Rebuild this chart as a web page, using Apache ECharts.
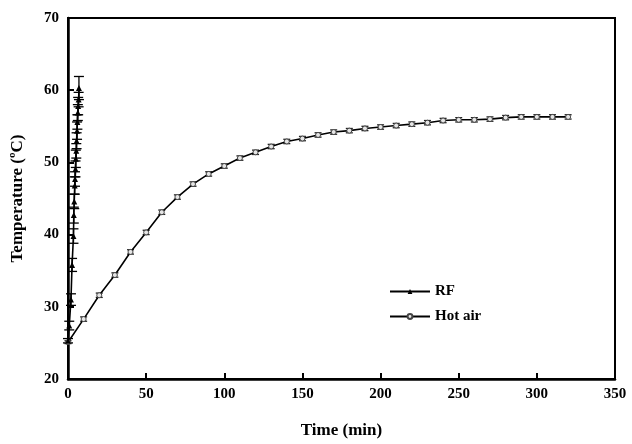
<!DOCTYPE html>
<html>
<head>
<meta charset="utf-8">
<script src="https://cdn.jsdelivr.net/npm/echarts@6/dist/echarts.min.js"></script>
<style>html,body{margin:0;padding:0;background:#fff}#c{width:632px;height:444px}</style>
</head>
<body>
<div id="c"></div>
<script>
var rfTime = [0, 0.8, 1.9, 2.6, 3.5, 3.7, 4.0, 4.3, 4.5, 4.8, 5.0, 5.3, 5.5, 5.8, 6.0, 6.3, 6.5, 6.8, 7.0];
var rfTemp = [25.3, 27.4, 31.0, 35.8, 39.8, 42.7, 44.6, 46.8, 47.7, 49.1, 50.5, 51.6, 53.0, 54.4, 55.6, 56.9, 57.8, 58.7, 60.3];
var rfErr  = [0.3, 0.6, 0.8, 0.9, 1.0, 1.1, 1.0, 1.2, 1.0, 1.1, 1.2, 1.0, 1.1, 1.2, 1.0, 1.1, 1.2, 1.0, 1.6];

var airTime = [0,10,20,30,40,50,60,70,80,90,100,110,120,130,140,150,160,170,180,190,200,210,220,230,240,250,260,270,280,290,300,310,320];
var airTemp = [25.1,28.3,31.6,34.4,37.6,40.3,43.1,45.2,47.0,48.4,49.5,50.6,51.4,52.2,52.9,53.3,53.8,54.2,54.4,54.7,54.9,55.1,55.3,55.5,55.8,55.9,55.9,56.0,56.2,56.3,56.3,56.3,56.3];
var airErr  = [0.2,0.3,0.3,0.3,0.3,0.3,0.3,0.3,0.3,0.3,0.3,0.3,0.3,0.3,0.3,0.3,0.3,0.3,0.3,0.3,0.3,0.3,0.3,0.3,0.3,0.3,0.3,0.3,0.3,0.3,0.3,0.3,0.3];

var xTicks = [0, 50, 100, 150, 200, 250, 300, 350];
var yTicks = [20, 30, 40, 50, 60, 70];

function pairs(xs, ys) { return xs.map(function (x, i) { return [x, ys[i]]; }); }
function errData(xs, ys, es) { return xs.map(function (x, i) { return [x, ys[i], es[i]]; }); }

function errRender(capHalf, color) {
  return function (params, api) {
    var x = api.value(0), y = api.value(1), e = api.value(2);
    var top = api.coord([x, y + e]);
    var bot = api.coord([x, y - e]);
    var st = { stroke: color, lineWidth: 1.3 };
    return {
      type: 'group',
      children: [
        { type: 'line', shape: { x1: top[0], y1: top[1], x2: bot[0], y2: bot[1] }, style: st },
        { type: 'line', shape: { x1: top[0] - capHalf, y1: top[1], x2: top[0] + capHalf, y2: top[1] }, style: st },
        { type: 'line', shape: { x1: bot[0] - capHalf, y1: bot[1], x2: bot[0] + capHalf, y2: bot[1] }, style: st }
      ]
    };
  };
}

var font = '"Liberation Serif", "Times New Roman", serif';
var chart = echarts.init(document.getElementById('c'), null, { renderer: 'canvas' });
chart.setOption({
  animation: false,
  backgroundColor: '#fff',
  grid: { left: 68, right: 17, top: 18, bottom: 59, show: true, borderColor: '#000', borderWidth: 2, backgroundColor: 'transparent' },
  xAxis: {
    type: 'value', min: xTicks[0], max: xTicks[xTicks.length - 1], interval: 50,
    name: 'Time (min)', nameLocation: 'middle', nameGap: 43,
    nameTextStyle: { fontFamily: font, fontWeight: 'bold', fontSize: 17, color: '#000' },
    axisLine: { lineStyle: { color: '#000', width: 2.5 } },
    axisTick: { inside: true, length: 6, lineStyle: { color: '#000', width: 2 } },
    axisLabel: { fontFamily: font, fontWeight: 'bold', fontSize: 15, color: '#000', margin: 8 },
    splitLine: { show: false }
  },
  yAxis: {
    type: 'value', min: yTicks[0], max: yTicks[yTicks.length - 1], interval: 10,
    name: 'Temperature (ºC)', nameLocation: 'middle', nameGap: 42,
    nameTextStyle: { fontFamily: font, fontWeight: 'bold', fontSize: 17, color: '#000' },
    axisLine: { lineStyle: { color: '#000', width: 2.5 } },
    axisTick: { inside: true, length: 6, lineStyle: { color: '#000', width: 2 } },
    axisLabel: { fontFamily: font, fontWeight: 'bold', fontSize: 15, color: '#000', margin: 9 },
    splitLine: { show: false }
  },
  legend: {
    orient: 'vertical', left: 384, top: 279, itemGap: 10, itemWidth: 40, itemHeight: 6,
    textStyle: { fontFamily: font, fontWeight: 'bold', fontSize: 15, color: '#000' },
    data: ['RF', 'Hot air']
  },
  series: [
    {
      name: 'airErr', type: 'custom', renderItem: errRender(3.5, '#222'), data: errData(airTime, airTemp, airErr),
      encode: { x: 0, y: 1 }, z: 1, silent: true
    },
    {
      name: 'Hot air', type: 'line', data: pairs(airTime, airTemp), z: 3,
      symbol: 'circle', symbolSize: 5,
      lineStyle: { color: '#000', width: 1.6 },
      itemStyle: { color: '#e6e6e6', borderColor: '#444', borderWidth: 1 }
    },
    {
      name: 'rfErr', type: 'custom', renderItem: errRender(5, '#000'), data: errData(rfTime, rfTemp, rfErr),
      encode: { x: 0, y: 1 }, z: 2, silent: true
    },
    {
      name: 'RF', type: 'line', data: pairs(rfTime, rfTemp), z: 4,
      symbol: 'triangle', symbolSize: 6,
      lineStyle: { color: '#000', width: 1.6 },
      itemStyle: { color: '#000', borderColor: '#000', borderWidth: 0 }
    }
  ]
});
</script>
</body>
</html>
